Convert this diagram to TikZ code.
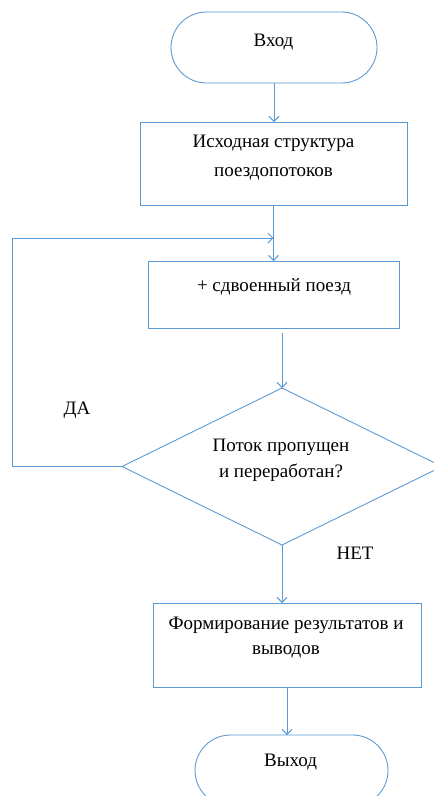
\documentclass[tikz,border=0pt]{standalone}
\usepackage{fontspec}
\setmainfont{Liberation Serif}
\usetikzlibrary{arrows.meta,shapes.geometric,shapes.misc}
\definecolor{ln}{RGB}{91,155,213}
\begin{document}
\begin{tikzpicture}[x=1pt,y=-1pt,
  every node/.style={inner sep=0pt,outer sep=0pt},
  shp/.style={draw=ln,line width=0.9pt},
  rect/.style={shp,rectangle},
  term/.style={shp,rounded rectangle,minimum height=71pt},
  arr/.style={draw=ln,line width=0.9pt,-{Straight Barb[length=5pt,width=10pt]}},
  lbl/.style={font=\fontsize{19}{26}\selectfont,align=center}
]
\useasboundingbox (0,0) rectangle (434,796);
% shapes
\node[term,minimum width=206pt] (start) at (274,47.5) {};
\node[rect,minimum width=267pt,minimum height=83pt] (b1) at (273.5,163.5) {};
\node[rect,minimum width=251pt,minimum height=67pt] (b2) at (273.5,294.5) {};
\node[shp,diamond,minimum width=320pt,minimum height=157pt] (dia) at (282,466.5) {};
\node[rect,minimum width=268pt,minimum height=84pt] (b3) at (287,645) {};
\node[term,minimum width=193pt] (end) at (291.5,770.5) {};
% texts
\node[lbl] (tstart) at (273.5,42) {Вход};
\node[lbl,font=\fontsize{19}{29}\selectfont] (tb1) at (273.5,158) {Исходная структура\\поездопотоков};
\node[lbl] (tb2) at (274,287) {+ сдвоенный поезд};
\node[lbl] (tdia) at (281,460) {Поток пропущен\\и переработан?};
\node[lbl,font=\fontsize{19}{25}\selectfont] (tb3) at (286,638) {Формирование результатов и\\выводов};
\node[lbl] (tend) at (290.5,762) {Выход};
\node[lbl] (yes) at (77,410) {ДА};
\node[lbl] (no) at (355,553) {НЕТ};
% connectors
\coordinate (j) at (273.5,238);
\draw[arr] (start.south) -- (start.south |- b1.north);
\draw[arr] (b1.south) -- (b2.north);
\draw[arr] (dia.west) -- ++(-110,0) |- (j);
\draw[arr] ([yshift=-5pt]dia.north |- b2.south) -- (dia.north);
\draw[arr] (dia.south) -- (dia.south |- b3.north);
\draw[arr] (b3.south) -- (b3.south |- end.north);
\end{tikzpicture}
\end{document}
